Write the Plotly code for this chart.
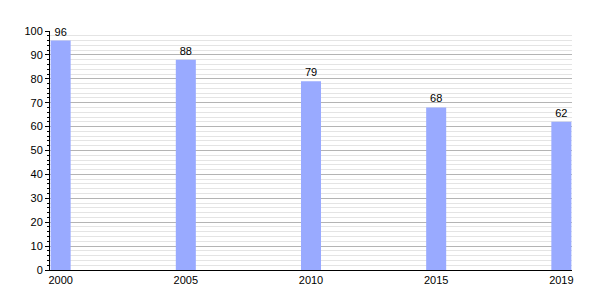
import plotly.graph_objects as go

years = ["2000", "2005", "2010", "2015", "2019"]
values = [96, 88, 79, 68, 62]

fig = go.Figure()
fig.add_trace(go.Bar(
    x=years, y=values, width=0.16,
    marker=dict(color="#99aaff", line=dict(width=0)),
    text=[str(v) for v in values], textposition="outside",
    textfont=dict(family="Liberation Sans, Arial", size=11, color="black"),
    cliponaxis=False,
))
fig.update_layout(
    width=600, height=300,
    margin=dict(l=50, r=28, t=31, b=30),
    plot_bgcolor="white", paper_bgcolor="white",
    showlegend=False,
    font=dict(family="Liberation Sans, Arial", size=11, color="black"),
    xaxis=dict(type="category", range=[-0.085, 4.085], showgrid=False,
               showline=True, linecolor="black", linewidth=1,
               ticks="", tickfont=dict(size=11)),
    yaxis=dict(range=[0, 100], dtick=10, showgrid=True, gridcolor="#b4b4b4", gridwidth=1,
               showline=True, linecolor="black", linewidth=1,
               ticks="outside", ticklen=4, tickcolor="black",
               zeroline=False,
               minor=dict(dtick=2, showgrid=True, gridcolor="#e4e4e4", ticks="outside",
                          ticklen=2, tickcolor="black"),
               tickfont=dict(size=11)),
)
fig.write_html("out.html")
